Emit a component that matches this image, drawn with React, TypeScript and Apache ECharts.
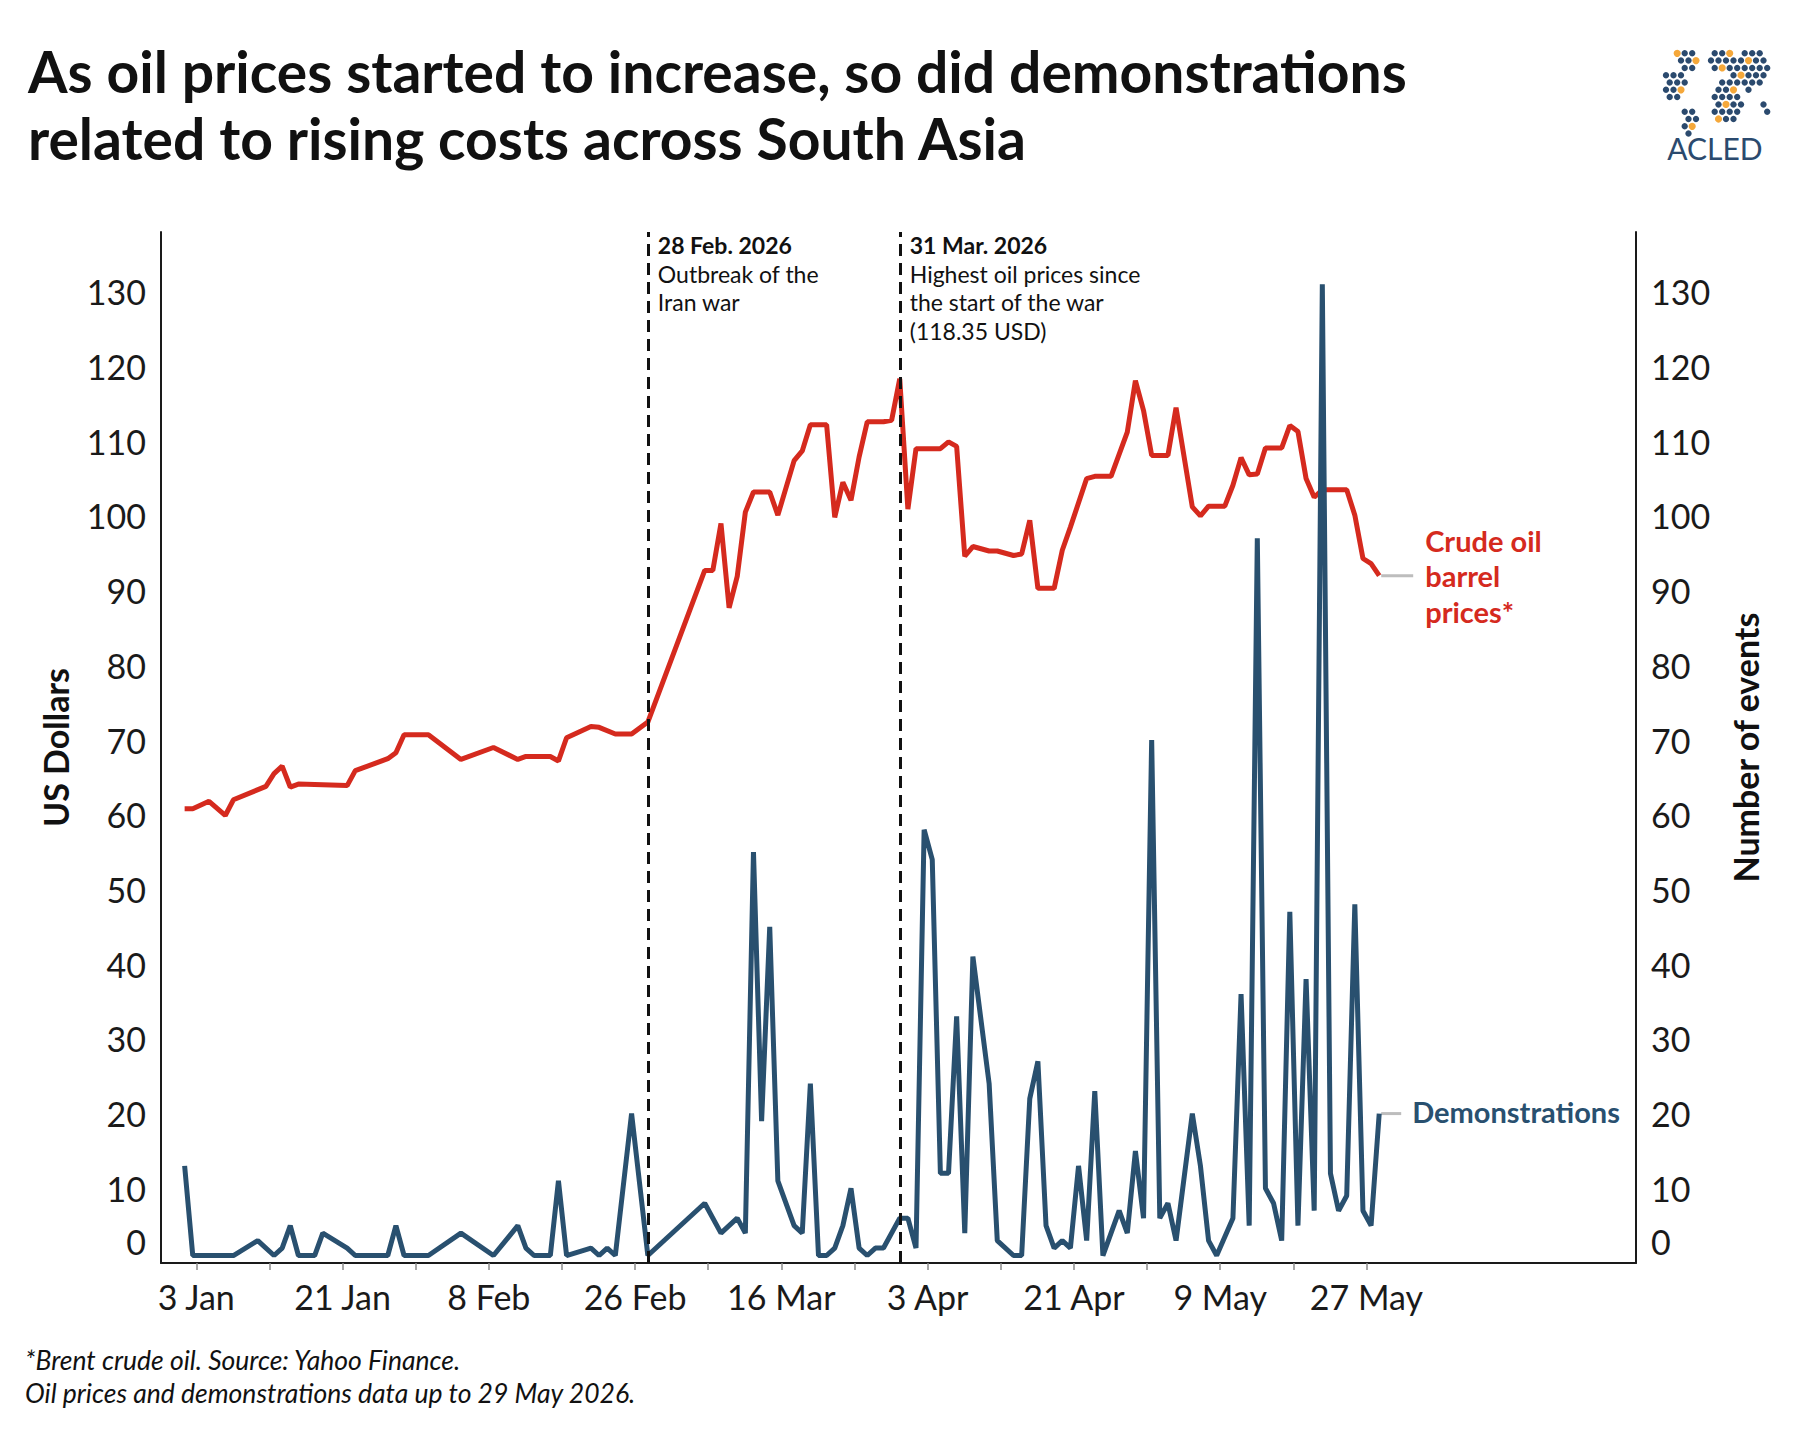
import React, { useEffect, useRef } from 'react';
import * as echarts from 'echarts';

const oilDates = [
  '2026-01-02', '2026-01-03', '2026-01-05', '2026-01-07', '2026-01-08', '2026-01-12', '2026-01-13', '2026-01-14',
  '2026-01-15', '2026-01-16', '2026-01-22', '2026-01-23', '2026-01-27', '2026-01-28', '2026-01-29',
  '2026-02-01', '2026-02-05', '2026-02-09', '2026-02-12', '2026-02-13', '2026-02-16', '2026-02-17', '2026-02-18',
  '2026-02-21', '2026-02-22', '2026-02-24', '2026-02-26', '2026-02-28',
  '2026-03-07', '2026-03-08', '2026-03-09', '2026-03-10', '2026-03-11', '2026-03-12', '2026-03-13', '2026-03-15',
  '2026-03-16', '2026-03-18', '2026-03-19', '2026-03-20', '2026-03-22', '2026-03-23', '2026-03-24', '2026-03-25',
  '2026-03-26', '2026-03-27', '2026-03-29', '2026-03-30', '2026-03-31',
  '2026-04-01', '2026-04-02', '2026-04-05', '2026-04-06', '2026-04-07', '2026-04-08', '2026-04-09', '2026-04-11',
  '2026-04-12', '2026-04-14', '2026-04-15', '2026-04-16', '2026-04-17', '2026-04-19', '2026-04-20', '2026-04-21',
  '2026-04-23', '2026-04-24', '2026-04-26', '2026-04-28', '2026-04-29', '2026-04-30',
  '2026-05-01', '2026-05-03', '2026-05-04', '2026-05-06', '2026-05-07', '2026-05-08', '2026-05-10', '2026-05-11',
  '2026-05-12', '2026-05-13', '2026-05-14', '2026-05-15', '2026-05-17', '2026-05-18', '2026-05-19', '2026-05-20',
  '2026-05-21', '2026-05-22', '2026-05-25', '2026-05-26', '2026-05-27', '2026-05-28', '2026-05-29',
];
const oilPrices = [
  60.8, 60.8, 61.8, 59.9, 62.0, 63.8, 65.5, 66.5, 63.7, 64.1, 63.9, 65.9, 67.5, 68.3, 70.7,
  70.7, 67.4, 69.0, 67.4, 67.8, 67.8, 67.2, 70.3, 71.8, 71.7, 70.8, 70.8, 72.4,
  92.7, 92.7, 99.0, 87.7, 91.9, 100.5, 103.2, 103.2, 100.1, 107.4, 108.7, 112.2, 112.2, 99.8, 104.5, 102.1,
  107.9, 112.6, 112.6, 112.8, 118.35,
  100.9, 109.0, 109.0, 109.9, 109.3, 94.6, 95.9, 95.3, 95.3, 94.7, 94.9, 99.4, 90.3, 90.3, 95.4, 98.5,
  105.0, 105.3, 105.3, 111.2, 118.1, 114.1,
  108.1, 108.1, 114.5, 101.2, 100.0, 101.3, 101.3, 104.1, 107.8, 105.5, 105.6, 109.1, 109.1, 112.1, 111.3,
  105.0, 102.5, 103.5, 103.5, 100.1, 94.3, 93.6, 92.0,
];

const demoDates = [
  '2026-01-02', '2026-01-03', '2026-01-08', '2026-01-11', '2026-01-13', '2026-01-14', '2026-01-15', '2026-01-16',
  '2026-01-18', '2026-01-19', '2026-01-22', '2026-01-23', '2026-01-27', '2026-01-28', '2026-01-29',
  '2026-02-01', '2026-02-05', '2026-02-09', '2026-02-12', '2026-02-13', '2026-02-14', '2026-02-16', '2026-02-17',
  '2026-02-18', '2026-02-21', '2026-02-22', '2026-02-23', '2026-02-24', '2026-02-26', '2026-02-28',
  '2026-03-07', '2026-03-09', '2026-03-11', '2026-03-12', '2026-03-13', '2026-03-14', '2026-03-15', '2026-03-16',
  '2026-03-18', '2026-03-19', '2026-03-20', '2026-03-21', '2026-03-22', '2026-03-23', '2026-03-24', '2026-03-25',
  '2026-03-26', '2026-03-27', '2026-03-28', '2026-03-29', '2026-03-31',
  '2026-04-01', '2026-04-02', '2026-04-03', '2026-04-04', '2026-04-05', '2026-04-06', '2026-04-07', '2026-04-08',
  '2026-04-09', '2026-04-11', '2026-04-12', '2026-04-14', '2026-04-15', '2026-04-16', '2026-04-17', '2026-04-18',
  '2026-04-19', '2026-04-20', '2026-04-21', '2026-04-22', '2026-04-23', '2026-04-24', '2026-04-25', '2026-04-26',
  '2026-04-27', '2026-04-28', '2026-04-29', '2026-04-30',
  '2026-05-01', '2026-05-02', '2026-05-03', '2026-05-04', '2026-05-06', '2026-05-07', '2026-05-08', '2026-05-09',
  '2026-05-11', '2026-05-12', '2026-05-13', '2026-05-14', '2026-05-15', '2026-05-16', '2026-05-17', '2026-05-18',
  '2026-05-19', '2026-05-20', '2026-05-21', '2026-05-22', '2026-05-23', '2026-05-24', '2026-05-25', '2026-05-26',
  '2026-05-27', '2026-05-28', '2026-05-29',
];
const demoCounts = [
  13, 1, 1, 3, 1, 2, 5, 1, 1, 4, 2, 1, 1, 5, 1,
  1, 4, 1, 5, 2, 1, 1, 11, 1, 2, 1, 2, 1, 20, 1,
  8, 4, 6, 4, 55, 19, 45, 11, 5, 4, 24, 1, 1, 2, 5, 10, 2, 1, 2, 2, 6,
  6, 2, 58, 54, 12, 12, 33, 4, 41, 24, 3, 1, 1, 22, 27, 5, 2, 3, 2, 13, 3, 23, 1, 4, 7, 4, 15, 6,
  70, 6, 8, 3, 20, 13, 3, 1, 6, 36, 5, 97, 10, 8, 3, 47, 5, 38, 7, 131, 12, 7, 9, 48, 7, 5, 20,
];

const xTickLabels = ['3 Jan', '21 Jan', '8 Feb', '26 Feb', '16 Mar', '3 Apr', '21 Apr', '9 May', '27 May'];

const events = [
  { date: '2026-02-28', head: '28 Feb. 2026', lines: ['Outbreak of the', 'Iran war'] },
  { date: '2026-03-31', head: '31 Mar. 2026', lines: ['Highest oil prices since', 'the start of the war', '(118.35 USD)'] },
];

const titleLines = [
  'As oil prices started to increase, so did demonstrations',
  'related to rising costs across South Asia',
];
const footnotes = [
  '*Brent crude oil. Source: Yahoo Finance.',
  'Oil prices and demonstrations data up to 29 May 2026.',
];

const RED = '#D52A1E';
const NAVY = '#29506F';
const FONT = 'Lato';
const DAY = 86400000;
const ORIGIN = Date.UTC(2026, 0, 3);
const TICK_SHIFT = 0.43;
const toX = (s: string) => (Date.parse(s + 'T00:00:00Z') - ORIGIN) / DAY - TICK_SHIFT;

const labelValues = xTickLabels.map((_, i) => i * 18);
const tickValues = Array.from({ length: xTickLabels.length * 2 - 1 }, (_, i) => i * 9);

function logoElements() {
  const regions = [
    { cx: 44, cy: 18, rx: 13, ry: 11 },
    { cx: 32, cy: 44, rx: 11, ry: 16 },
    { cx: 46, cy: 80, rx: 8, ry: 15 },
    { cx: 78, cy: 22, rx: 13, ry: 12 },
    { cx: 84, cy: 60, rx: 15, ry: 24 },
    { cx: 106, cy: 30, rx: 21, ry: 20 },
    { cx: 121, cy: 68, rx: 4, ry: 7 },
  ];
  const els: any[] = [];
  for (let j = 0; j < 13; j++) {
    for (let i = 0; i < 18; i++) {
      const x = 8 + i * 7.5 + (j % 2 ? 3.7 : 0);
      const y = 6 + j * 7.3;
      const inside = regions.some((r) => ((x - r.cx) / r.rx) ** 2 + ((y - r.cy) / r.ry) ** 2 <= 1);
      if (!inside) continue;
      const orange = (i * 3 + j * 5) % 7 === 0;
      els.push({
        type: 'circle',
        shape: { cx: x, cy: y, r: orange ? 3.6 : 3.2 },
        style: { fill: orange ? '#F5A83A' : '#2B4A6E' },
      });
    }
  }
  els.push({
    type: 'text',
    x: 72,
    y: 108,
    style: {
      text: 'ACLED',
      fill: '#2B4A6E',
      fontFamily: FONT,
      fontSize: 30,
      fontWeight: 'normal',
      align: 'center',
      verticalAlign: 'middle',
      letterSpacing: 3,
    } as any,
  });
  return { type: 'group', x: 1643, y: 40, children: els };
}

export default function App() {
  const ref = useRef<HTMLDivElement>(null);

  useEffect(() => {
    if (!ref.current) return;
    const chart = echarts.init(ref.current, undefined, { renderer: 'svg' });

    const oilData = oilDates.map((d, i) => [toX(d), oilPrices[i]]);
    const demoData = demoDates.map((d, i) => [toX(d), demoCounts[i]]);

    const yAxisCommon = {
      type: 'value',
      min: 0,
      max: 138,
      interval: 10,
      splitLine: { show: false },
      axisTick: { show: false },
      axisLine: { show: true, onZero: false, lineStyle: { color: '#1a1a1a', width: 2 } },
      axisLabel: {
        fontFamily: FONT,
        fontSize: 34,
        color: '#1a1a1a',
        margin: 15,
        lineHeight: 43,
        formatter: (v: number) => {
          if (v > 130 || Math.abs(v % 10) > 0.001) return '';
          return v === 0 ? '0\n' : String(v);
        },
      },
      nameLocation: 'middle',
      nameRotate: 90,
      nameTextStyle: { fontFamily: FONT, fontSize: 34, fontWeight: 'bold', color: '#111' },
    };

    const option: any = {
      animation: false,
      backgroundColor: '#ffffff',
      textStyle: { fontFamily: FONT },
      grid: { left: 161, right: 164, top: 232, bottom: 177, containLabel: false },
      xAxis: {
        type: 'value',
        min: -1.908 - 2 - TICK_SHIFT,
        max: 179.6 - 2 - TICK_SHIFT,
        minInterval: 9,
        maxInterval: 9,
        splitNumber: 20,
        splitLine: { show: false },
        axisLine: { show: true, onZero: false, lineStyle: { color: '#1a1a1a', width: 2 } },
        axisTick: { show: true, length: 7, customValues: tickValues, lineStyle: { color: '#8a8a8a', width: 1.5 } },
        axisLabel: {
          fontFamily: FONT,
          fontSize: 34,
          color: '#1a1a1a',
          margin: 16,
          showMinLabel: true,
          showMaxLabel: true,
          customValues: labelValues,
          formatter: (v: number) => {
            const k = Math.round(v);
            if (Math.abs(v - k) > 0.01 || k % 18 !== 0) return '';
            return xTickLabels[k / 18] ?? '';
          },
        },
      },
      yAxis: [
        { ...yAxisCommon, position: 'left', name: 'US Dollars', nameGap: 89 },
        { ...yAxisCommon, position: 'right', name: 'Number of events', nameGap: 92 },
      ],
      series: [
        {
          type: 'line',
          name: 'Crude oil barrel prices',
          data: oilData,
          yAxisIndex: 0,
          showSymbol: false,
          lineStyle: { color: RED, width: 5 },
          itemStyle: { color: RED },
          z: 2,
        },
        {
          type: 'line',
          name: 'Demonstrations',
          data: demoData,
          yAxisIndex: 1,
          showSymbol: false,
          lineStyle: { color: NAVY, width: 5 },
          itemStyle: { color: NAVY },
          z: 3,
        },
        {
          type: 'line',
          name: 'events',
          data: [],
          yAxisIndex: 0,
          z: 5,
          markLine: {
            silent: true,
            symbol: ['none', 'none'],
            label: { show: false },
            lineStyle: { color: '#111', width: 3, type: [12, 7] },
            data: events.map((e) => ({ xAxis: toX(e.date) })),
          },
        },
      ],
    };

    chart.setOption(option);

    const px = (x: number, v: number, yi = 0) =>
      chart.convertToPixel({ xAxisIndex: 0, yAxisIndex: yi }, [x, v]) as number[];

    const graphics: any[] = [];

    titleLines.forEach((t, i) => {
      graphics.push({
        type: 'text',
        x: 28,
        y: 71 + i * 67,
        style: { text: t, fill: '#111', fontFamily: FONT, fontSize: 57, fontWeight: 'bold', verticalAlign: 'middle' },
      });
    });

    footnotes.forEach((t, i) => {
      graphics.push({
        type: 'text',
        x: 25,
        y: 1360 + i * 33,
        style: { text: t, fill: '#111', fontFamily: FONT, fontSize: 26.5, fontStyle: 'italic', verticalAlign: 'middle' },
      });
    });

    events.forEach((e) => {
      const x = px(toX(e.date), 0)[0] + 10;
      const top = 245;
      graphics.push({
        type: 'text',
        x,
        y: top,
        style: { text: e.head, fill: '#111', fontFamily: FONT, fontSize: 23, fontWeight: 'bold', verticalAlign: 'middle' },
      });
      e.lines.forEach((l, i) => {
        graphics.push({
          type: 'text',
          x,
          y: top + 28.5 * (i + 1),
          style: { text: l, fill: '#111', fontFamily: FONT, fontSize: 23, verticalAlign: 'middle' },
        });
      });
    });

    const lastOil = px(toX(oilDates[oilDates.length - 1]), oilPrices[oilPrices.length - 1], 0);
    graphics.push({
      type: 'line',
      shape: { x1: lastOil[0] + 2, y1: lastOil[1], x2: lastOil[0] + 34, y2: lastOil[1] },
      style: { stroke: '#BDBDBD', lineWidth: 3 },
      z: 1,
    });
    ['Crude oil', 'barrel', 'prices*'].forEach((t, i) => {
      graphics.push({
        type: 'text',
        x: lastOil[0] + 46,
        y: lastOil[1] + (i - 1) * 35.5,
        style: { text: t, fill: RED, fontFamily: FONT, fontSize: 29, fontWeight: 'bold', verticalAlign: 'middle' },
      });
    });

    const lastDemo = px(toX(demoDates[demoDates.length - 1]), demoCounts[demoCounts.length - 1], 1);
    graphics.push({
      type: 'line',
      shape: { x1: lastDemo[0] + 2, y1: lastDemo[1], x2: lastDemo[0] + 22, y2: lastDemo[1] },
      style: { stroke: '#BDBDBD', lineWidth: 3 },
      z: 1,
    });
    graphics.push({
      type: 'text',
      x: lastDemo[0] + 33,
      y: lastDemo[1] - 2,
      style: { text: 'Demonstrations', fill: NAVY, fontFamily: FONT, fontSize: 29, fontWeight: 'bold', verticalAlign: 'middle' },
    });

    graphics.push(logoElements());

    chart.setOption({ graphic: graphics });

    return () => chart.dispose();
  }, []);

  return (
    <div
      ref={ref}
      style={{ position: 'fixed', left: 0, top: 0, width: 1800, height: 1440, background: '#fff' }}
    />
  );
}
